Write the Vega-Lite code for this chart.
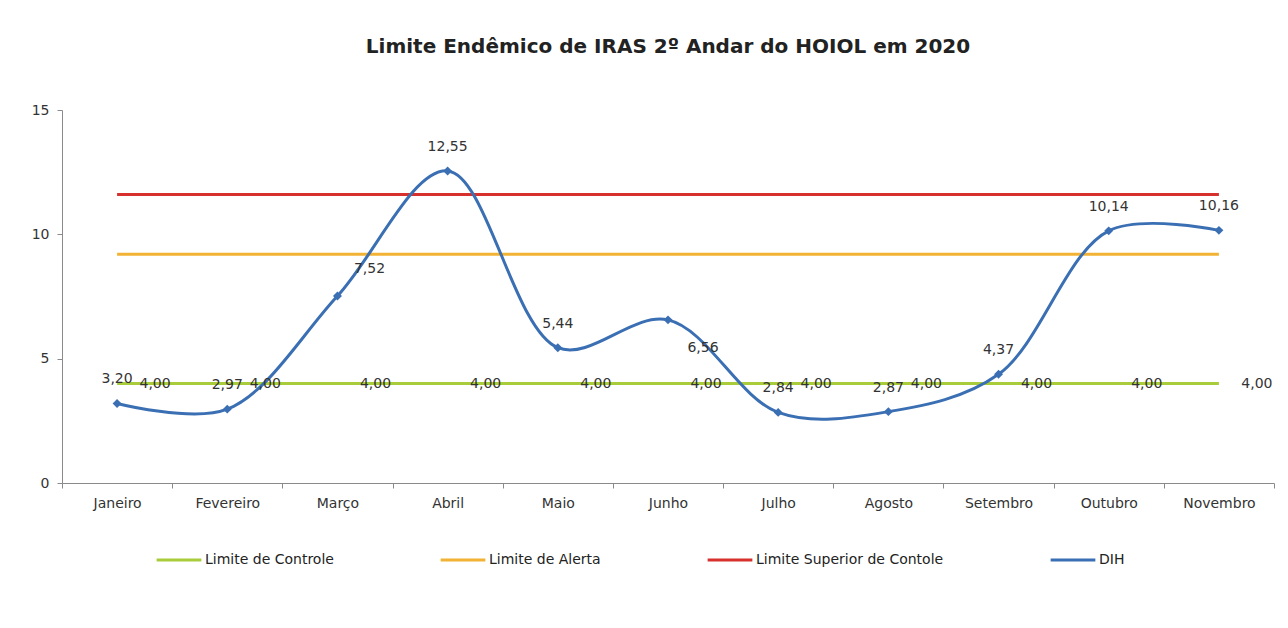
{
  "$schema": "https://vega.github.io/schema/vega-lite/v6.json",
  "width": 1212,
  "height": 373,
  "autosize": {"type": "none"},
  "padding": {"left": 62, "top": 110, "right": 14, "bottom": 145},
  "background": "white",
  "config": {
    "font": "DejaVu Sans",
    "view": {"stroke": null},
    "locale": {"number": {"decimal": ",", "thousands": ".", "grouping": [3], "currency": ["R$", ""]}}
  },
  "title": {
    "text": "Limite Endêmico de IRAS 2º Andar do HOIOL em 2020",
    "fontSize": 20,
    "fontWeight": "bold",
    "color": "#222222",
    "anchor": "middle",
    "offset": 46
  },
  "data": {
    "values": [
      {"mes": "Janeiro", "serie": "Limite de Controle", "valor": 4.0},
      {"mes": "Fevereiro", "serie": "Limite de Controle", "valor": 4.0},
      {"mes": "Março", "serie": "Limite de Controle", "valor": 4.0},
      {"mes": "Abril", "serie": "Limite de Controle", "valor": 4.0},
      {"mes": "Maio", "serie": "Limite de Controle", "valor": 4.0},
      {"mes": "Junho", "serie": "Limite de Controle", "valor": 4.0},
      {"mes": "Julho", "serie": "Limite de Controle", "valor": 4.0},
      {"mes": "Agosto", "serie": "Limite de Controle", "valor": 4.0},
      {"mes": "Setembro", "serie": "Limite de Controle", "valor": 4.0},
      {"mes": "Outubro", "serie": "Limite de Controle", "valor": 4.0},
      {"mes": "Novembro", "serie": "Limite de Controle", "valor": 4.0},
      {"mes": "Janeiro", "serie": "Limite de Alerta", "valor": 9.2},
      {"mes": "Fevereiro", "serie": "Limite de Alerta", "valor": 9.2},
      {"mes": "Março", "serie": "Limite de Alerta", "valor": 9.2},
      {"mes": "Abril", "serie": "Limite de Alerta", "valor": 9.2},
      {"mes": "Maio", "serie": "Limite de Alerta", "valor": 9.2},
      {"mes": "Junho", "serie": "Limite de Alerta", "valor": 9.2},
      {"mes": "Julho", "serie": "Limite de Alerta", "valor": 9.2},
      {"mes": "Agosto", "serie": "Limite de Alerta", "valor": 9.2},
      {"mes": "Setembro", "serie": "Limite de Alerta", "valor": 9.2},
      {"mes": "Outubro", "serie": "Limite de Alerta", "valor": 9.2},
      {"mes": "Novembro", "serie": "Limite de Alerta", "valor": 9.2},
      {"mes": "Janeiro", "serie": "Limite Superior de Contole", "valor": 11.6},
      {"mes": "Fevereiro", "serie": "Limite Superior de Contole", "valor": 11.6},
      {"mes": "Março", "serie": "Limite Superior de Contole", "valor": 11.6},
      {"mes": "Abril", "serie": "Limite Superior de Contole", "valor": 11.6},
      {"mes": "Maio", "serie": "Limite Superior de Contole", "valor": 11.6},
      {"mes": "Junho", "serie": "Limite Superior de Contole", "valor": 11.6},
      {"mes": "Julho", "serie": "Limite Superior de Contole", "valor": 11.6},
      {"mes": "Agosto", "serie": "Limite Superior de Contole", "valor": 11.6},
      {"mes": "Setembro", "serie": "Limite Superior de Contole", "valor": 11.6},
      {"mes": "Outubro", "serie": "Limite Superior de Contole", "valor": 11.6},
      {"mes": "Novembro", "serie": "Limite Superior de Contole", "valor": 11.6},
      {"mes": "Janeiro", "serie": "DIH", "valor": 3.20},
      {"mes": "Fevereiro", "serie": "DIH", "valor": 2.97},
      {"mes": "Março", "serie": "DIH", "valor": 7.52},
      {"mes": "Abril", "serie": "DIH", "valor": 12.55},
      {"mes": "Maio", "serie": "DIH", "valor": 5.44},
      {"mes": "Junho", "serie": "DIH", "valor": 6.56},
      {"mes": "Julho", "serie": "DIH", "valor": 2.84},
      {"mes": "Agosto", "serie": "DIH", "valor": 2.87},
      {"mes": "Setembro", "serie": "DIH", "valor": 4.37},
      {"mes": "Outubro", "serie": "DIH", "valor": 10.14},
      {"mes": "Novembro", "serie": "DIH", "valor": 10.16}
    ]
  },
  "encoding": {
    "x": {
      "field": "mes",
      "type": "ordinal",
      "sort": ["Janeiro", "Fevereiro", "Março", "Abril", "Maio", "Junho", "Julho", "Agosto", "Setembro", "Outubro", "Novembro"],
      "scale": {"type": "band", "paddingInner": 0, "paddingOuter": 0},
      "axis": {
        "title": null,
        "labelAngle": 0,
        "tickBand": "extent",
        "domainColor": "#8a8a8a",
        "tickColor": "#8a8a8a",
        "tickSize": 5,
        "labelFontSize": 14,
        "labelColor": "#333333",
        "labelPadding": 8,
        "grid": false
      }
    },
    "y": {
      "field": "valor",
      "type": "quantitative",
      "scale": {"domain": [0, 15], "nice": false},
      "axis": {
        "title": null,
        "values": [0, 5, 10, 15],
        "grid": false,
        "domainColor": "#8a8a8a",
        "tickColor": "#8a8a8a",
        "tickSize": 5,
        "labelFontSize": 14,
        "labelColor": "#333333",
        "labelPadding": 8
      }
    }
  },
  "layer": [
    {
      "transform": [{"filter": "datum.serie !== 'DIH'"}],
      "mark": {"type": "line", "strokeWidth": 3},
      "encoding": {
        "color": {
          "field": "serie",
          "type": "nominal",
          "scale": {
            "domain": ["Limite de Controle", "Limite de Alerta", "Limite Superior de Contole", "DIH"],
            "range": ["#a9cc3a", "#f2b233", "#d8302d", "#3b6fb3"]
          },
          "legend": {
            "title": null,
            "orient": "none",
            "legendX": 93,
            "legendY": 426,
            "direction": "horizontal",
            "gridAlign": "each",
            "symbolType": "stroke",
            "symbolSize": 2000,
            "symbolStrokeWidth": 3,
            "labelFontSize": 14,
            "labelLimit": 400,
            "labelColor": "#222222",
            "labelOffset": 2,
            "columnPadding": 100
          }
        }
      }
    },
    {
      "transform": [{"filter": "datum.serie === 'DIH'"}],
      "mark": {"type": "line", "strokeWidth": 3, "interpolate": "catmull-rom"},
      "encoding": {
        "color": {"field": "serie", "type": "nominal"}
      }
    },
    {
      "transform": [{"filter": "datum.serie === 'DIH'"}],
      "mark": {"type": "point", "shape": "diamond", "filled": true, "size": 80, "color": "#3b6fb3", "opacity": 1}
    },
    {
      "transform": [{"filter": "datum.serie === 'DIH' && datum.mes !== 'Junho' && datum.mes !== 'Março'"}],
      "mark": {"type": "text", "dy": -24, "fontSize": 14, "color": "#333333"},
      "encoding": {"text": {"field": "valor", "type": "quantitative", "format": ".2f"}}
    },
    {
      "transform": [{"filter": "datum.serie === 'DIH' && datum.mes === 'Março'"}],
      "mark": {"type": "text", "dx": 32, "dy": -27, "fontSize": 14, "color": "#333333"},
      "encoding": {"text": {"field": "valor", "type": "quantitative", "format": ".2f"}}
    },
    {
      "transform": [{"filter": "datum.serie === 'DIH' && datum.mes === 'Junho'"}],
      "mark": {"type": "text", "dx": 35, "dy": 28, "fontSize": 14, "color": "#333333"},
      "encoding": {"text": {"field": "valor", "type": "quantitative", "format": ".2f"}}
    },
    {
      "transform": [{"filter": "datum.serie === 'Limite de Controle'"}],
      "mark": {"type": "text", "dx": 38, "fontSize": 14, "color": "#333333"},
      "encoding": {"text": {"field": "valor", "type": "quantitative", "format": ".2f"}}
    }
  ]
}
